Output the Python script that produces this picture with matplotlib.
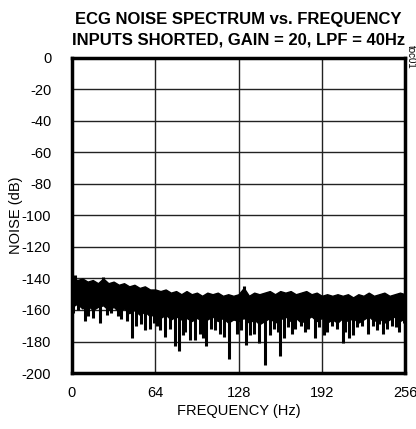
import numpy as np
import matplotlib.pyplot as plt

plt.rcParams['font.family'] = ['Liberation Sans', 'DejaVu Sans']
plt.rcParams['axes.unicode_minus'] = False

# band of the noise trace, read every 4 Hz
freq = np.arange(0, 257, 4)
top_db = [-139, -141, -140, -142, -141, -143, -140, -143, -142, -144, -143, -145, -144,
          -146, -145, -147, -147, -148, -147, -149, -148, -150, -148, -150, -149, -151,
          -149, -150, -149, -151, -150, -151, -150, -146, -151, -149, -150, -149, -148,
          -150, -148, -149, -148, -150, -149, -148, -150, -149, -151, -150, -151, -150,
          -151, -150, -152, -150, -151, -149, -151, -150, -149, -151, -150, -149, -150]
bottom_db = [-158, -156, -159, -157, -160, -158, -157, -160, -158, -161, -159, -162, -160,
             -163, -161, -164, -162, -165, -163, -166, -164, -166, -165, -167, -165, -167,
             -166, -164, -167, -165, -168, -166, -167, -165, -168, -166, -169, -167, -165,
             -168, -166, -164, -167, -165, -168, -166, -164, -167, -165, -168, -166, -168,
             -165, -167, -165, -168, -166, -164, -167, -165, -168, -166, -164, -167, -165]

# downward dips below the band
spike_f = [1, 5, 10, 12, 16, 21.5, 27, 30, 35, 38, 42, 46, 49, 53, 56, 60, 63, 65, 68, 71.5,
           75, 79, 82.5, 85, 87, 91, 94.5, 98, 101, 103, 107, 110, 114, 117, 121, 126.5, 130,
           134, 137, 140, 144, 148.4, 152, 155, 158, 160, 163, 166, 169, 171, 176, 179, 181,
           186.5, 190, 194, 196, 200, 204, 208, 210, 213, 216, 219, 223, 227.3, 231, 234, 236,
           239, 242, 246, 249, 251, 255]
spike_db = [-162, -160, -167, -164, -165, -168, -163, -162, -164, -166, -167, -178, -170, -169,
            -173, -172, -168, -170, -173, -177, -172, -183, -186, -176, -174, -179, -179, -175,
            -178, -183, -172, -173, -175, -177, -191, -175, -173, -182, -176, -175, -181, -195,
            -176, -172, -174, -189, -178, -171, -175, -172, -170, -174, -172, -178, -171, -176,
            -174, -170, -172, -181, -174, -178, -176, -171, -170, -175, -170, -173, -169, -175,
            -172, -170, -171, -174, -168]

# peaks above the band
up_f = [2, 24, 132]
up_db = [-138, -139, -145]

xticks = [0, 64, 128, 192, 256]
yticks = list(range(0, -201, -20))

fig = plt.figure(figsize=(4.16, 4.29), dpi=100)
ax = fig.add_axes([0.173, 0.1305, 0.801, 0.7345])

ax.fill_between(freq, top_db, bottom_db, color='black', lw=1, edgecolor='black', zorder=3)
ax.vlines(spike_f, -155, spike_db, color='black', lw=2.2, zorder=3)
ax.vlines(up_f, -150, up_db, color='black', lw=2.2, zorder=3)

ax.set_xlim(0, 256)
ax.set_ylim(-200, 0)
ax.set_xticks(xticks)
ax.set_yticks(yticks)
ax.grid(True, color='#222222', lw=1)
ax.tick_params(length=0, labelsize=10.5)
ax.tick_params(axis='y', pad=15)
ax.tick_params(axis='x', pad=9)
for s in ax.spines.values():
    s.set_linewidth(2.5)

ax.set_xlabel('FREQUENCY (Hz)', fontsize=10.5, labelpad=3)
ax.set_ylabel('NOISE (dB)', fontsize=10.5, labelpad=-1)
ax.set_title('ECG NOISE SPECTRUM vs. FREQUENCY\nINPUTS SHORTED, GAIN = 20, LPF = 40Hz',
             fontsize=12, fontweight='bold', linespacing=1.45, pad=10)

fig.text(0.987, 0.895, 'toc01', rotation=-90, fontsize=7, ha='center', va='top')

fig.savefig('out.png', dpi=100)
